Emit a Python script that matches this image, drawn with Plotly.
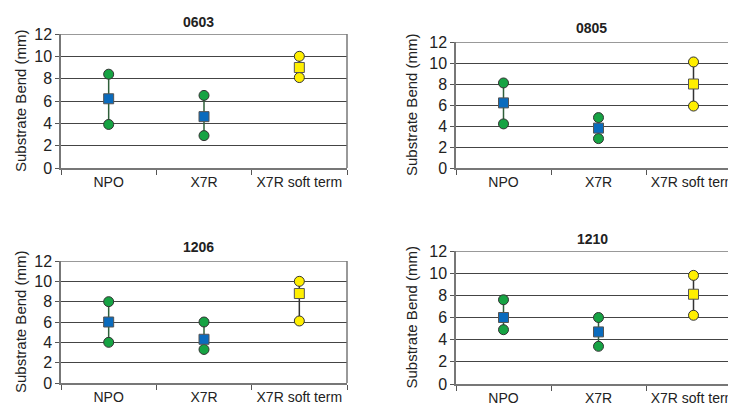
import plotly.graph_objects as go

categories = ["NPO", "X7R", "X7R soft term"]
panel_titles = ["0603", "0805", "1206", "1210"]
y_title = "Substrate Bend (mm)"
tick_vals = [0, 2, 4, 6, 8, 10, 12]

low_0603 = [3.9, 2.9, 8.1]
mean_0603 = [6.2, 4.6, 9.0]
high_0603 = [8.4, 6.5, 10.0]

low_0805 = [4.2, 2.8, 5.9]
mean_0805 = [6.2, 3.8, 8.0]
high_0805 = [8.1, 4.8, 10.1]

low_1206 = [4.0, 3.3, 6.1]
mean_1206 = [6.0, 4.3, 8.8]
high_1206 = [8.0, 6.0, 10.0]

low_1210 = [4.9, 3.4, 6.2]
mean_1210 = [6.0, 4.7, 8.1]
high_1210 = [7.6, 6.0, 9.8]

panels = [
    (low_0603, mean_0603, high_0603),
    (low_0805, mean_0805, high_0805),
    (low_1206, mean_1206, high_1206),
    (low_1210, mean_1210, high_1210),
]

W, H = 736, 412
# pixel boxes: (left, right, top, bottom)
boxes = [(53, 339, 26, 160), (448, 733, 34, 160), (53, 339, 253, 375), (448, 733, 243, 376)]
title_pos = [(190, 14), (583, 20), (190, 239), (584, 231)]
ytitle_x = [12, 403, 12, 403]

FONT = "Liberation Sans, Arial, sans-serif"
GREEN = "#16a343"
BLUE = "#0a6bbd"
YELLOW = "#ffef00"
MCOL = ["green", "green", "yellow"]

fig = go.Figure()
layout = dict(
    width=W, height=H, margin=dict(l=0, r=0, t=0, b=0, autoexpand=False),
    paper_bgcolor="white", plot_bgcolor="white", showlegend=False,
    font=dict(family=FONT, color="#222"),
)
annotations = []
for i, (lo, mid, hi) in enumerate(panels):
    n = "" if i == 0 else str(i + 1)
    xa, ya = "x" + n, "y" + n
    l, r, t, b = boxes[i]
    layout["xaxis" + n] = dict(
        domain=[l / W, r / W], anchor=ya, type="category",
        categoryorder="array", categoryarray=categories,
        range=[-0.5, 2.5], tickson="boundaries", ticks="outside", ticklen=5,
        tickcolor="#555", showline=True, linecolor="#777", linewidth=1.5,
        mirror=False, showgrid=False, tickfont=dict(size=14, color="#222"),
        tickangle=0, fixedrange=True, automargin=False,
    )
    layout["yaxis" + n] = dict(
        domain=[1 - b / H, 1 - t / H], anchor=xa, range=[0, 12],
        tickvals=tick_vals, ticks="outside", ticklen=4, tickcolor="#555",
        showline=True, linecolor="#777", linewidth=1.5,
        showgrid=True, gridcolor="#444", gridwidth=1, zeroline=False,
        tickfont=dict(size=16, color="#222"),
        fixedrange=True, automargin=False,
    )
    # right border and top lines
    fig.add_shape(type="line", xref=xa + " domain", yref=ya, x0=1, x1=1, y0=0, y1=12,
                  line=dict(color="#777", width=1.5))
    fig.add_shape(type="line", xref=xa + " domain", yref=ya, x0=0, x1=1, y0=12, y1=12,
                  line=dict(color="#777", width=1.5))
    for j, cat in enumerate(categories):
        col = GREEN if MCOL[j] == "green" else YELLOW
        lcol = "#2f5f3a" if MCOL[j] == "green" else "#333"
        fig.add_trace(go.Scatter(x=[cat, cat], y=[lo[j], hi[j]], mode="lines",
                                 line=dict(color=lcol, width=1.5), xaxis=xa, yaxis=ya,
                                 hoverinfo="skip"))
        fig.add_trace(go.Scatter(x=[cat, cat], y=[lo[j], hi[j]], mode="markers",
                                 marker=dict(symbol="circle", size=10, color=col,
                                             line=dict(color="#333", width=1)),
                                 xaxis=xa, yaxis=ya))
        sq = BLUE if MCOL[j] == "green" else YELLOW
        fig.add_trace(go.Scatter(x=[cat], y=[mid[j]], mode="markers",
                                 marker=dict(symbol="square", size=10, color=sq,
                                             line=dict(color="#555", width=1)),
                                 xaxis=xa, yaxis=ya))
    tx, ty = title_pos[i]
    annotations.append(dict(text="<b>" + panel_titles[i] + "</b>", x=tx / W, y=1 - ty / H,
                            xref="paper", yref="paper", showarrow=False,
                            xanchor="center", yanchor="middle",
                            font=dict(size=14, color="#222", family=FONT)))
    annotations.append(dict(text=y_title, x=ytitle_x[i] / W, y=1 - (t + b) / 2 / H,
                            xref="paper", yref="paper", showarrow=False, textangle=-90,
                            xanchor="center", yanchor="middle",
                            font=dict(size=15, color="#222", family=FONT)))
layout["annotations"] = annotations
fig.update_layout(**layout)
fig.write_html("out.html")
